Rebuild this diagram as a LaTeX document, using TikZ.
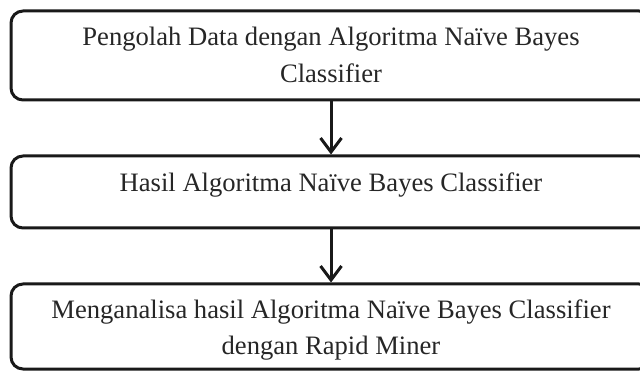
\documentclass[tikz,border=0pt]{standalone}
\usepackage{fontspec}
\setmainfont{Liberation Serif}
\usetikzlibrary{arrows.meta}
\begin{document}
\begin{tikzpicture}[x=1pt,y=-1pt,
  box/.style={draw=black!90, line width=3pt, rounded corners=12pt, minimum width=640pt, inner sep=0pt},
  lbl/.style={anchor=base, font=\fontsize{26.6}{31}\selectfont, text=black!85, inner sep=0pt},
  arr/.style={line width=3pt, draw=black!90, -{Straight Barb[length=14pt,width=21pt,line width=3pt]}}]
\useasboundingbox (0,0) rectangle (640,371);
\node[box, minimum height=89pt] (b1) at (331,55.5) {};
\node[box, minimum height=72pt] (b2) at (331,192) {};
\node[box, minimum height=85pt] (b3) at (331,326.5) {};
\node[lbl] (t1a) at (331,46) {Pengolah Data dengan Algoritma Naïve Bayes};
\node[lbl] (t1b) at (331,83) {Classifier};
\node[lbl] (t2) at (331,192) {Hasil Algoritma Naïve Bayes Classifier};
\node[lbl] (t3a) at (331,319) {Menganalisa hasil Algoritma Naïve Bayes Classifier};
\node[lbl] (t3b) at (331,355) {dengan Rapid Miner};
\draw[arr] (b1.south) -- (b2.north);
\draw[arr] (b2.south) -- (b3.north);
\end{tikzpicture}
\end{document}
